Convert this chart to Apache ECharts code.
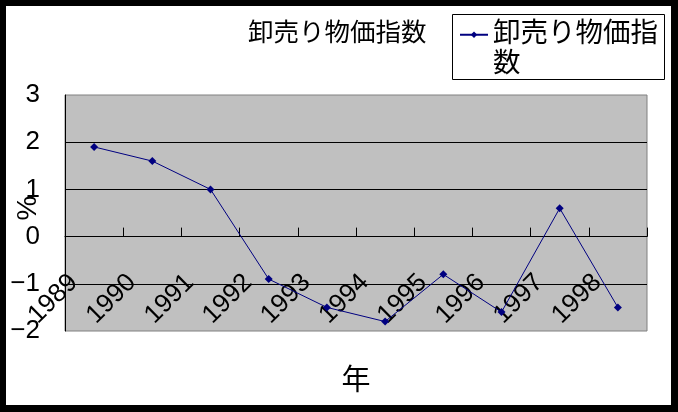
<!DOCTYPE html>
<html>
<head>
<meta charset="utf-8">
<script src="https://cdn.jsdelivr.net/npm/echarts@6/dist/echarts.min.js"></script>
<style>
html,body{margin:0;padding:0;background:#000;}
#bg{position:absolute;left:6px;top:6px;width:665px;height:399px;background:#fff;}
#chart{position:absolute;left:0;top:0;width:678px;height:412px;}
</style>
</head>
<body>
<div id="bg"></div>
<div id="chart"></div>
<script>
const categories = ['1989','1990','1991','1992','1993','1994','1995','1996','1997','1998'];
const values = [1.9, 1.6, 1.0, -0.9, -1.5, -1.8, -0.8, -1.6, 0.6, -1.5];
const seriesName = '卸売り物価指数';
const titleText = '卸売り物価指数';
const xName = '年';
const yName = '%';

const FONT = "'Liberation Sans', 'Noto Sans CJK JP', sans-serif";
const chart = echarts.init(document.getElementById('chart'), null, {renderer: 'canvas'});
chart.setOption({
  backgroundColor: 'transparent',
  animation: false,
  textStyle: {fontFamily: FONT, color: '#000'},
  title: {
    text: titleText,
    left: 248, top: 21, padding: 0,
    textStyle: {fontSize: 25.5, fontWeight: 'normal', color: '#000', fontFamily: FONT}
  },
  graphic: [{
    type: 'rect', z: -10,
    shape: {x: 452.5, y: 14.5, width: 212, height: 65},
    style: {fill: '#fff', stroke: '#000', lineWidth: 1}
  }],
  legend: {
    left: 459, bottom: 333, padding: 0,
    itemWidth: 28, itemHeight: 8, itemGap: 0,
    formatter: function (n) { return '\n卸売り物価指\n数'; },
    textStyle: {fontSize: 27.5, lineHeight: 29.5, color: '#000', fontFamily: FONT},
    data: [seriesName]
  },
  grid: {
    left: 65, right: 31, top: 95, bottom: 81,
    containLabel: false, outerBoundsMode: 'none',
    show: true, backgroundColor: '#C0C0C0', borderColor: '#808080', borderWidth: 1
  },
  xAxis: {
    type: 'category',
    data: categories,
    boundaryGap: true,
    name: xName,
    nameLocation: 'middle',
    nameGap: 36,
    nameMoveOverlap: false,
    nameTextStyle: {fontSize: 29, color: '#000', fontFamily: FONT},
    axisLine: {show: true, onZero: true, lineStyle: {color: '#000', width: 1}},
    axisTick: {show: true, inside: true, length: 9, alignWithLabel: false, lineStyle: {color: '#000'}},
    axisLabel: {
      interval: 0, rotate: 45, margin: -73, fontSize: 26, color: '#000', fontFamily: FONT,
      padding: [0, 29, 0, 0]
    },
    splitLine: {show: false}
  },
  yAxis: {
    type: 'value',
    min: -2, max: 3, interval: 1,
    name: yName,
    nameLocation: 'middle',
    nameGap: 23,
    nameRotate: 90,
    nameMoveOverlap: false,
    nameTextStyle: {fontSize: 28, color: '#000', fontFamily: FONT, padding: [0, 0, 0, 10]},
    axisLine: {show: true, lineStyle: {color: '#000', width: 1}},
    axisTick: {show: false},
    axisLabel: {
      fontSize: 26, margin: 25, color: '#000', fontFamily: FONT,
      formatter: function (v) { return v < 0 ? '\u2212' + Math.abs(v) : String(v); }
    },
    splitLine: {show: true, showMinLine: false, showMaxLine: false, lineStyle: {color: '#000', width: 1}}
  },
  series: [{
    name: seriesName,
    type: 'line',
    data: values,
    color: '#000080',
    symbol: 'diamond',
    symbolSize: 8,
    showAllSymbol: true,
    lineStyle: {color: '#000080', width: 1},
    itemStyle: {color: '#000080'}
  }]
});
</script>
</body>
</html>
